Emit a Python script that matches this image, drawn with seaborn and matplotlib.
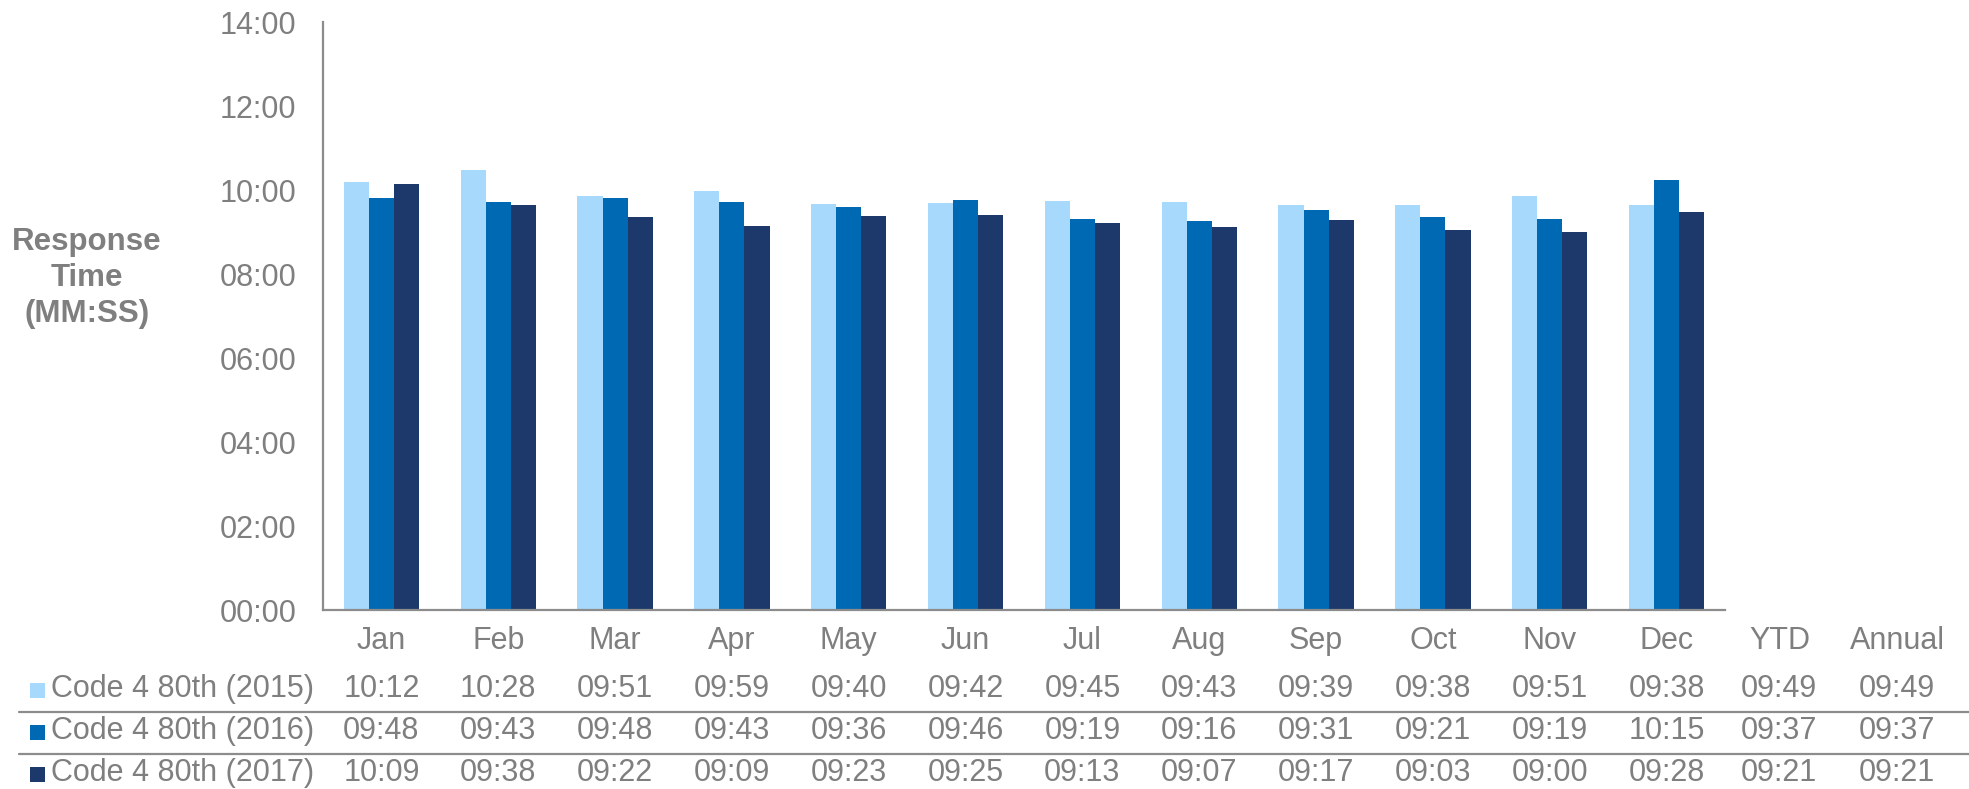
import matplotlib
matplotlib.use("Agg")
import matplotlib.pyplot as plt
import matplotlib.transforms as mtransforms
from matplotlib.lines import Line2D
from matplotlib.patches import Rectangle
from matplotlib.ticker import FuncFormatter, MultipleLocator
import seaborn as sns
import pandas as pd

# ---------------- data ----------------
months = ["Jan", "Feb", "Mar", "Apr", "May", "Jun", "Jul", "Aug", "Sep", "Oct", "Nov", "Dec"]
summary_cols = ["YTD", "Annual"]
series_names = ["Code 4 80th (2015)", "Code 4 80th (2016)", "Code 4 80th (2017)"]

vals_2015 = ["10:12", "10:28", "09:51", "09:59", "09:40", "09:42", "09:45", "09:43", "09:39", "09:38", "09:51", "09:38"]
vals_2016 = ["09:48", "09:43", "09:48", "09:43", "09:36", "09:46", "09:19", "09:16", "09:31", "09:21", "09:19", "10:15"]
vals_2017 = ["10:09", "09:38", "09:22", "09:09", "09:23", "09:25", "09:13", "09:07", "09:17", "09:03", "09:00", "09:28"]

ytd_2015, annual_2015 = "09:49", "09:49"
ytd_2016, annual_2016 = "09:37", "09:37"
ytd_2017, annual_2017 = "09:21", "09:21"

colors = ["#A6D9FC", "#0069B4", "#1D386A"]
text_gray = "#7F7F7F"
axis_gray = "#8C8C8C"


def to_min(s):
    m, sec = s.split(":")
    return int(m) + int(sec) / 60.0


all_vals = [vals_2015, vals_2016, vals_2017]
summaries = [[ytd_2015, annual_2015], [ytd_2016, annual_2016], [ytd_2017, annual_2017]]

rows = []
for name, vals in zip(series_names, all_vals):
    for m, v in zip(months, vals):
        rows.append({"Month": m, "Series": name, "Minutes": to_min(v)})
df = pd.DataFrame(rows)

# ---------------- figure ----------------
sns.set_theme(style="white")
plt.rcParams["font.family"] = ["Liberation Sans", "DejaVu Sans"]

W, H = 1969, 789
fig = plt.figure(figsize=(W / 100, H / 100), dpi=100)
ax_l, ax_r, ax_t, ax_b = 323, 1725, 22, 610
ax = fig.add_axes([ax_l / W, 1 - ax_b / H, (ax_r - ax_l) / W, (ax_b - ax_t) / H])

sns.barplot(data=df, x="Month", y="Minutes", hue="Series", order=months,
            hue_order=series_names, palette=colors, width=0.645, gap=0,
            saturation=1, legend=False, ax=ax, linewidth=0, errorbar=None)

fs = 22
ax.set_ylim(0, 14)
ax.set_xlim(-0.5, 11.5)
ax.yaxis.set_major_locator(MultipleLocator(2))
ax.yaxis.set_major_formatter(FuncFormatter(lambda v, p: f"{int(round(v)):02d}:00"))
ax.tick_params(axis="y", length=0, pad=19, labelsize=fs, labelcolor=text_gray)
ax.tick_params(axis="x", length=0, labelbottom=False)
ax.set_xlabel("")
ax.set_ylabel("")
for s in ["top", "right"]:
    ax.spines[s].set_visible(False)
for s in ["left", "bottom"]:
    ax.spines[s].set_color(axis_gray)
    ax.spines[s].set_linewidth(1.6)
ax.grid(False)

# blended transform: x in data, y in figure fraction
trans = mtransforms.blended_transform_factory(ax.transData, fig.transFigure)

col_x = list(range(len(months)))
cat_w = (ax_r - ax_l) / 12.0
hdr_sum_x = [-0.5 + (1780 - ax_l) / cat_w, -0.5 + (1897 - ax_l) / cat_w]
val_sum_x = [-0.5 + (1779 - ax_l) / cat_w, -0.5 + (1897 - ax_l) / cat_w]

# header row (month labels + summary columns)
header_y = 1 - 641 / H
for x, lab in zip(col_x + hdr_sum_x, months + summary_cols):
    ax.text(x, header_y, lab, transform=trans, ha="center", va="center",
            fontsize=fs, color=text_gray, clip_on=False)

# data table rows
row_y = [689, 731, 773]
for i, (name, vals, summ) in enumerate(zip(series_names, all_vals, summaries)):
    yf = 1 - row_y[i] / H
    for x, v in zip(col_x + val_sum_x, vals + summ):
        ax.text(x, yf, v, transform=trans, ha="center", va="center",
                fontsize=fs, color=text_gray, clip_on=False)
    # legend key square + series name
    fig.patches.append(Rectangle((30 / W, yf - 9 / H), 15 / W, 15 / H,
                                 transform=fig.transFigure, facecolor=colors[i],
                                 edgecolor="none"))
    fig.text(51 / W, yf, name, ha="left", va="center", fontsize=fs, color=text_gray)

# separator lines in table
for ly in [712, 754]:
    fig.add_artist(Line2D([19 / W, 1.0], [1 - ly / H, 1 - ly / H],
                          transform=fig.transFigure, color=axis_gray, linewidth=1.6))

# y axis title
fig.text(87 / W, 1 - 278 / H, "Response\nTime\n(MM:SS)", ha="center", va="center",
         fontsize=22.5, fontweight="bold", color=text_gray, linespacing=1.25)

fig.savefig("out.png", dpi=100, facecolor="white")
